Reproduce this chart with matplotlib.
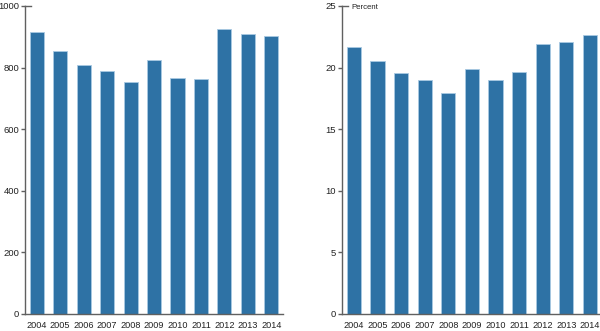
import matplotlib
matplotlib.use("Agg")
import matplotlib.pyplot as plt
import numpy as np

plt.rcParams['font.family'] = ['Liberation Sans', 'DejaVu Sans']

years = ['2004', '2005', '2006', '2007', '2008', '2009', '2010', '2011', '2012', '2013', '2014']
counts = [914, 853, 810, 789, 752, 826, 765, 764, 926, 908, 901]
percent = [21.65, 20.56, 19.56, 18.99, 17.96, 19.86, 18.96, 19.66, 21.9, 22.1, 22.62]

bar_color = '#2e72a5'
edge_color = '#a9c9e2'
spine_color = '#606060'

fig = plt.figure(figsize=(6.0, 3.31), dpi=100)
ax1 = fig.add_axes([0.0417, 0.0514, 0.43, 0.9305])
ax2 = fig.add_axes([0.570, 0.0514, 0.433, 0.9305])

def style(ax, vals, ymax, step):
    x = np.arange(len(vals))
    ax.bar(x, vals, width=0.6, color=bar_color, edgecolor=edge_color, linewidth=0.6)
    ax.set_xlim(-0.5, len(vals) - 0.5)
    ax.set_ylim(0, ymax)
    ax.set_xticks(x)
    ax.set_xticklabels(years)
    ax.set_yticks(np.arange(0, ymax + step / 2, step))
    for s in ['top', 'right']:
        ax.spines[s].set_visible(False)
    for s in ['left', 'bottom']:
        ax.spines[s].set_color(spine_color)
        ax.spines[s].set_linewidth(1.0)
    ax.tick_params(axis='x', length=0, pad=5, labelsize=6.6, labelcolor='#222222')
    ax.tick_params(axis='y', length=3, width=1.0, color=spine_color, pad=1.2,
                   labelsize=6.8, labelcolor='#222222')
    # short cap at the top of the value axis
    ax.axhline(ymax, xmin=0, xmax=0.024, color=spine_color, lw=1.0, clip_on=False)

style(ax1, counts, 1000, 200)
style(ax2, percent, 25, 5)
ax2.text(0.036, 0.995, 'Percent', transform=ax2.transAxes, fontsize=5.6,
         va='center', ha='left', color='#222222')

fig.savefig('out.png', dpi=100)
